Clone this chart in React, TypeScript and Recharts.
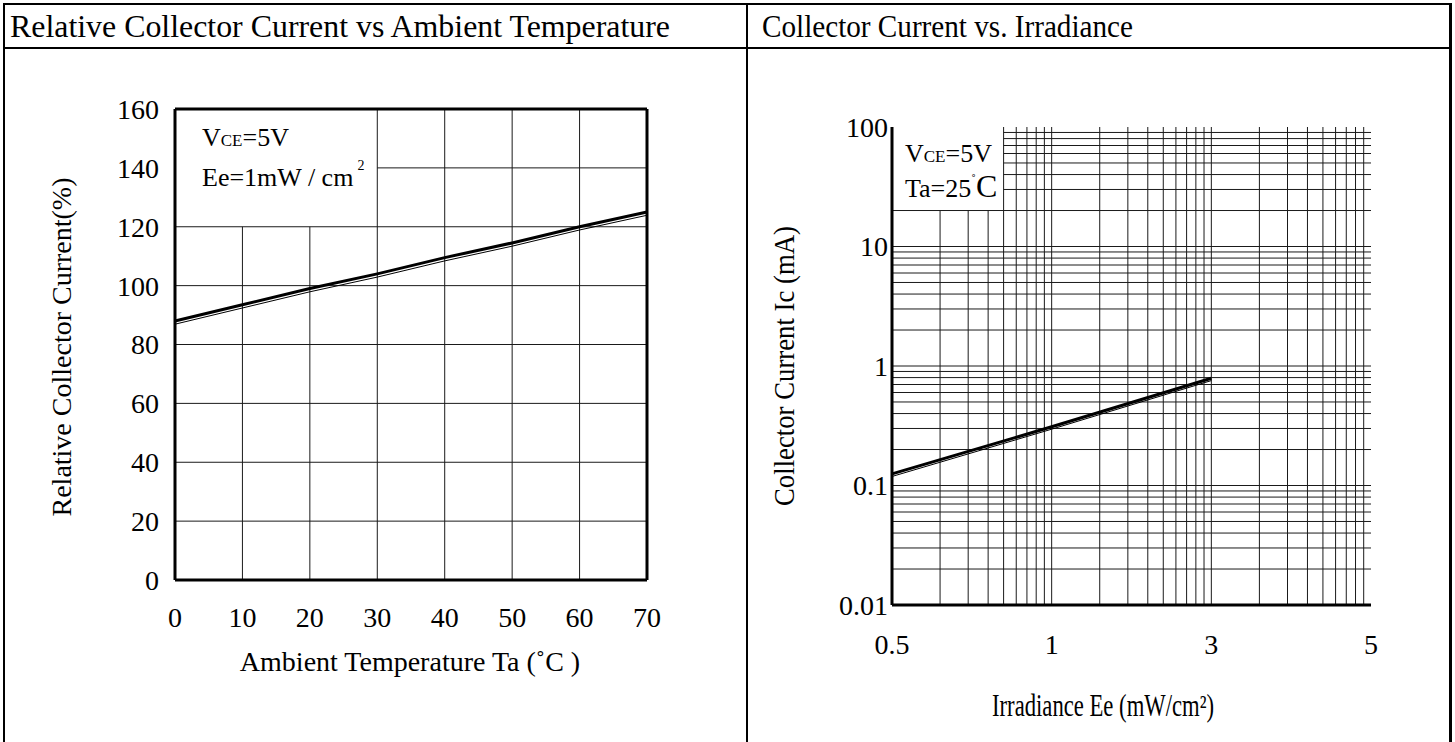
import React from "react";
import { LineChart, Line, XAxis, YAxis, ReferenceLine, Customized } from "recharts";

const FONT = "'Liberation Serif', 'Times New Roman', serif";

// ---- Left chart: Relative Collector Current vs Ambient Temperature ----
const TEMP_C = [0, 10, 20, 30, 40, 50, 60, 70];
const REL_IC = [88, 93.5, 99, 104, 109.5, 114.5, 120, 125];
const REL_IC_EDGE = [86.9, 92.4, 97.9, 102.9, 108.4, 113.4, 118.9, 123.9];
const REL_TICKS = [0, 20, 40, 60, 80, 100, 120, 140, 160];

// ---- Right chart: Collector Current vs. Irradiance ----
const EE_LABELS = ["0.5", "1", "3", "5"];
const IC_MA = [0.125, 0.31, 0.79, null];
const IC_MA_EDGE = [0.119, 0.296, 0.755, null];
const IC_TICKS = [0.01, 0.1, 1, 10, 100];
const LOG_STEPS = [1, 2, 3, 4, 5, 6, 7, 8, 9];

const leftData = TEMP_C.map((t, i) => ({ t, rel: REL_IC[i], edge: REL_IC_EDGE[i] }));
const LEFT_BOX = { t: 30, rel: 120 };

const rightData = EE_LABELS.map((label, i) => ({ pos: i, ee: label, ic: IC_MA[i], edge: IC_MA_EDGE[i] }));
const RIGHT_BOX = { pos: Math.log10(5), ic: 20 };

const xGridR: number[] = [];
for (let i = 0; i < EE_LABELS.length - 1; i++) {
  for (const k of LOG_STEPS) {
    const p = i + Math.log10(k);
    if (p > 0) xGridR.push(p);
  }
}
const yGridR: number[] = [];
for (let d = -2; d <= 1; d++) {
  for (const k of LOG_STEPS) {
    const v = k * Math.pow(10, d);
    if (v > 0.0100001) yGridR.push(v);
  }
}

const GRID = "#1a1a1a";
const tickStyle = { fill: "#000", fontSize: 28, fontFamily: FONT };

const LeftText = () => (
  <g fontFamily={FONT} fill="#000">
    <text x={61} y={347} transform="rotate(-90 61 347)" textAnchor="middle" dominantBaseline="central" fontSize={28}>
      Relative Collector Current(%)
    </text>
    <text x={410} y={671} textAnchor="middle" fontSize={28}>
      Ambient Temperature Ta (˚C )
    </text>
    <text x={202} y={146} fontSize={26}>
      V<tspan fontSize={17}>CE</tspan>=5V
    </text>
    <text x={202} y={186} fontSize={26}>
      Ee=1mW / cm<tspan fontSize={14} dx={4} dy={-16}>2</tspan>
    </text>
  </g>
);

const RightText = () => (
  <g fontFamily={FONT} fill="#000">
    <text
      x={37}
      y={366}
      transform="rotate(-90 37 366)"
      textAnchor="middle"
      dominantBaseline="central"
      fontSize={30}
      textLength={280}
      lengthAdjust="spacingAndGlyphs"
    >
      Collector Current Ic (mA)
    </text>
    <text x={357} y={716} textAnchor="middle" fontSize={31} textLength={222} lengthAdjust="spacingAndGlyphs">
      Irradiance Ee (mW/cm²)
    </text>
    <text x={159} y={162} fontSize={26}>
      V<tspan fontSize={17}>CE</tspan>=5V
    </text>
    <text x={159} y={197} fontSize={26}>
      Ta=25<tspan fontSize={14} dy={-12}>˚</tspan><tspan fontSize={32} dy={12}>C</tspan>
    </text>
  </g>
);

function LeftChart() {
  return (
    <LineChart width={746} height={742} data={leftData} margin={{ top: 109, right: 99, bottom: 122, left: 115 }}>
      {TEMP_C.slice(1, -1).map((t) =>
        t < LEFT_BOX.t ? (
          <ReferenceLine key={"v" + t} segment={[{ x: t, y: 0 }, { x: t, y: LEFT_BOX.rel }]} stroke={GRID} strokeWidth={1} />
        ) : (
          <ReferenceLine key={"v" + t} x={t} stroke={GRID} strokeWidth={1} />
        )
      )}
      {REL_TICKS.slice(1, -1).map((r) =>
        r > LEFT_BOX.rel ? (
          <ReferenceLine key={"h" + r} segment={[{ x: LEFT_BOX.t, y: r }, { x: 70, y: r }]} stroke={GRID} strokeWidth={1} />
        ) : (
          <ReferenceLine key={"h" + r} y={r} stroke={GRID} strokeWidth={1} />
        )
      )}
      <ReferenceLine x={70} stroke="#000" strokeWidth={3} />
      <ReferenceLine y={160} stroke="#000" strokeWidth={3} />
      <XAxis
        type="number"
        dataKey="t"
        domain={[0, 70]}
        ticks={TEMP_C}
        interval={0}
        tickLine={false}
        tickSize={0}
        tickMargin={27}
        height={40}
        axisLine={{ stroke: "#000", strokeWidth: 3 }}
        tick={tickStyle}
      />
      <YAxis
        type="number"
        domain={[0, 160]}
        ticks={REL_TICKS}
        interval={0}
        width={60}
        tickLine={false}
        tickSize={0}
        tickMargin={16}
        axisLine={{ stroke: "#000", strokeWidth: 3 }}
        tick={tickStyle}
      />
      <Line type="linear" dataKey="edge" stroke="#000" strokeWidth={1} dot={false} isAnimationActive={false} />
      <Line type="linear" dataKey="rel" stroke="#000" strokeWidth={3} dot={false} isAnimationActive={false} />
      <Customized component={LeftText} />
    </LineChart>
  );
}

function RightChart() {
  return (
    <LineChart width={709} height={742} data={rightData} margin={{ top: 127, right: 84, bottom: 97, left: 76 }}>
      {xGridR.map((p) =>
        p < RIGHT_BOX.pos - 1e-6 ? (
          <ReferenceLine key={"v" + p} segment={[{ x: p, y: 0.01 }, { x: p, y: RIGHT_BOX.ic }]} stroke={GRID} strokeWidth={1} />
        ) : (
          <ReferenceLine key={"v" + p} x={p} stroke={GRID} strokeWidth={p >= 2.999 ? 3 : 1} />
        )
      )}
      {yGridR.map((v) =>
        v > RIGHT_BOX.ic * 1.0001 && v < 99.99 ? (
          <ReferenceLine key={"h" + v} segment={[{ x: RIGHT_BOX.pos, y: v }, { x: 3, y: v }]} stroke={GRID} strokeWidth={1} />
        ) : (
          <ReferenceLine key={"h" + v} y={v} stroke={GRID} strokeWidth={v >= 99.99 ? 3 : 1} />
        )
      )}
      <XAxis
        type="number"
        dataKey="pos"
        domain={[0, 3]}
        ticks={[0, 1, 2, 3]}
        interval={0}
        tickFormatter={(v: number) => EE_LABELS[v]}
        tickLine={false}
        tickSize={0}
        tickMargin={29}
        height={40}
        axisLine={{ stroke: "#000", strokeWidth: 3 }}
        tick={tickStyle}
      />
      <YAxis
        type="number"
        scale="log"
        domain={[0.01, 100]}
        allowDataOverflow
        ticks={IC_TICKS}
        interval={0}
        tickFormatter={(v: number) => String(v)}
        width={70}
        tickLine={false}
        tickSize={0}
        tickMargin={4}
        axisLine={{ stroke: "#000", strokeWidth: 3 }}
        tick={tickStyle}
      />
      <Line type="linear" dataKey="edge" stroke="#000" strokeWidth={1} dot={false} isAnimationActive={false} />
      <Line type="linear" dataKey="ic" stroke="#000" strokeWidth={3} dot={false} isAnimationActive={false} />
      <Customized component={RightText} />
    </LineChart>
  );
}

export default function App() {
  return (
    <div style={{ position: "absolute", left: 0, top: 0, width: 1455, height: 742, background: "#fff", overflow: "hidden" }}>
      <svg width={1455} height={742} style={{ position: "absolute", left: 0, top: 0 }}>
        <line x1={4} y1={4} x2={4} y2={742} stroke="#000" strokeWidth={2} />
        <line x1={3} y1={4} x2={1452} y2={4} stroke="#000" strokeWidth={2} />
        <line x1={1450.5} y1={3} x2={1450.5} y2={742} stroke="#000" strokeWidth={3} />
        <line x1={3} y1={48} x2={1452} y2={48} stroke="#000" strokeWidth={2} />
        <line x1={747} y1={4} x2={747} y2={742} stroke="#000" strokeWidth={2} />
        <text x={10} y={37} fontFamily={FONT} fontSize={31} fill="#000" textLength={660} lengthAdjust="spacingAndGlyphs">
          Relative Collector Current vs Ambient Temperature
        </text>
        <text x={762} y={37} fontFamily={FONT} fontSize={31} fill="#000" textLength={371} lengthAdjust="spacingAndGlyphs">
          Collector Current vs. Irradiance
        </text>
      </svg>
      <div style={{ position: "absolute", left: 0, top: 0 }}>
        <LeftChart />
      </div>
      <div style={{ position: "absolute", left: 746, top: 0 }}>
        <RightChart />
      </div>
    </div>
  );
}
